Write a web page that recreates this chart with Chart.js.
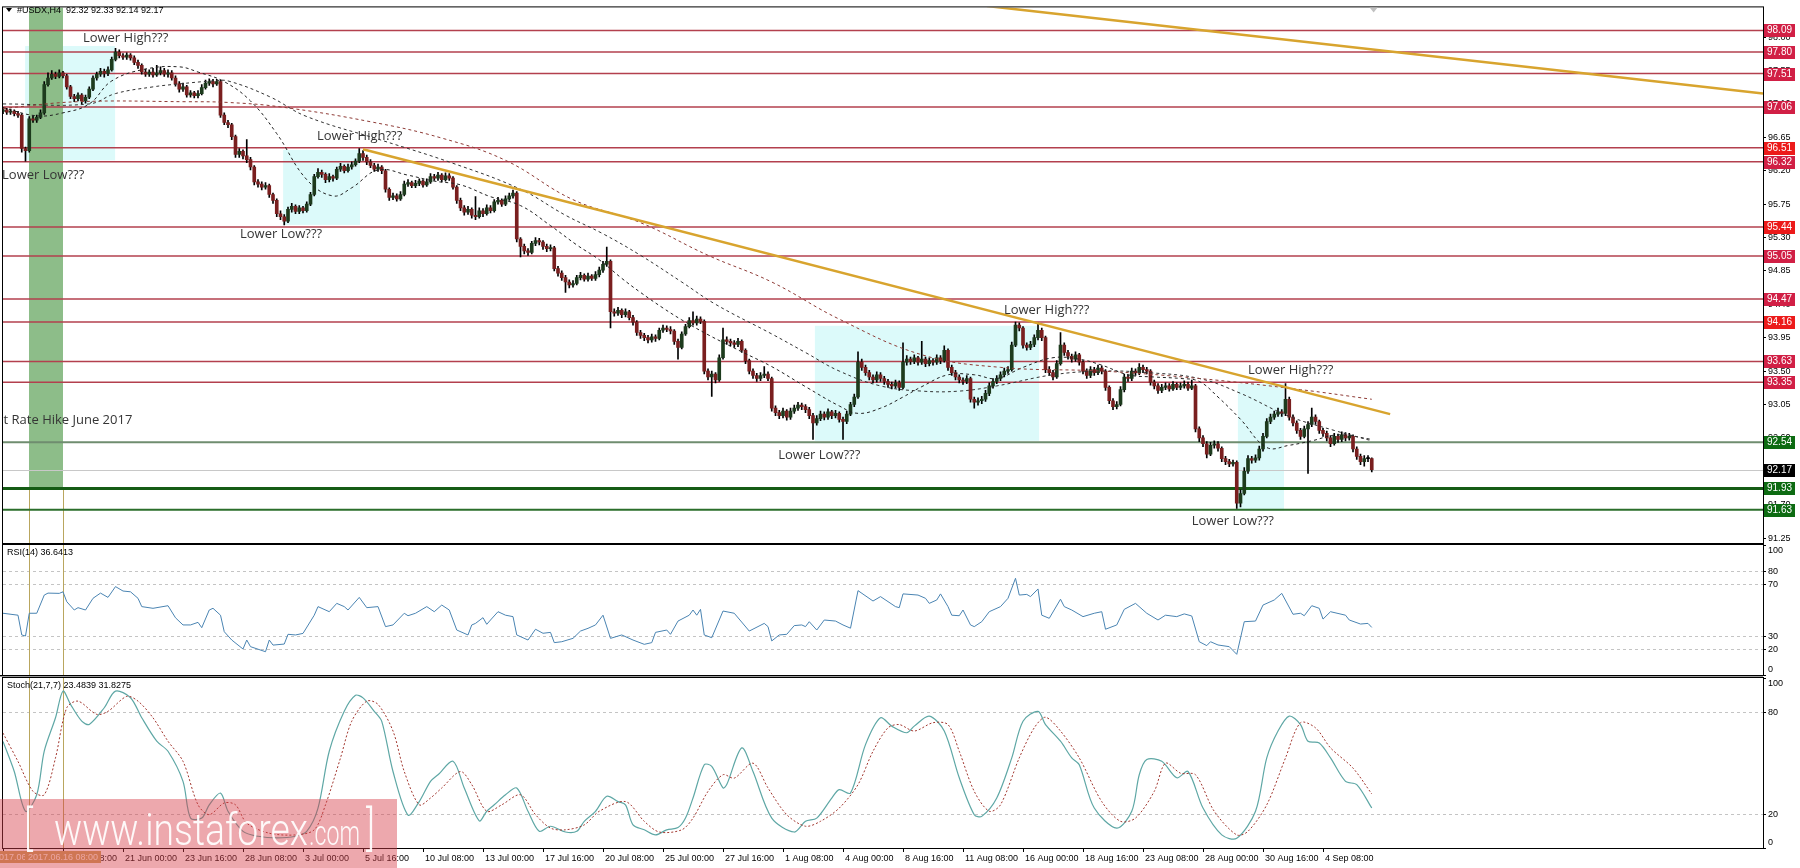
<!DOCTYPE html>
<html><head><meta charset="utf-8">
<script src="https://cdn.jsdelivr.net/npm/chart.js@4.4.1/dist/chart.umd.min.js"></script>
<style>
html,body{margin:0;padding:0;background:#fff;}
#wrap{position:relative;width:1800px;height:868px;overflow:hidden;background:#fff;}
#wrap canvas{position:absolute;left:0;top:0;}
</style></head><body>
<div id="wrap">
<canvas id="main" width="1800" height="868"></canvas>
<canvas id="rsi" width="1800" height="868"></canvas>
<canvas id="stoch" width="1800" height="868"></canvas>
</div>
<script>
// USDX H4 candles, bar 0 = 13 Jun 16:00
const opens = [
97.00,97.02,96.99,97.00,96.97,96.95,96.50,96.47,96.90,96.88, 96.92,96.98,97.36,97.45,97.50,97.47,97.52,97.48,97.33,97.20,
97.17,97.22,97.14,97.19,97.30,97.45,97.50,97.54,97.51,97.56, 97.70,97.80,97.75,97.73,97.76,97.72,97.66,97.62,97.53,97.50,
97.53,97.49,97.52,97.55,97.50,97.52,97.45,97.37,97.30,97.33, 97.22,97.25,97.21,97.24,97.32,97.38,97.40,97.37,97.40,96.95,
96.85,96.82,96.66,96.42,96.46,96.40,96.35,96.25,96.05,96.02, 95.98,96.00,95.88,95.80,95.62,95.58,95.52,95.68,95.72,95.65,
95.70,95.66,95.75,95.88,96.12,96.18,96.15,96.08,96.12,96.10, 96.22,96.26,96.20,96.25,96.28,96.33,96.43,96.38,96.32,96.27,
96.22,96.25,96.20,95.95,95.84,95.86,95.82,95.88,96.02,96.04, 96.00,96.03,96.06,96.01,96.05,96.12,96.10,96.14,96.08,96.13,
96.10,95.98,95.80,95.70,95.64,95.68,95.60,95.58,95.66,95.62, 95.70,95.66,95.78,95.80,95.75,95.82,95.86,95.90,95.28,95.18,
95.12,95.10,95.22,95.26,95.24,95.18,95.15,95.16,94.88,94.82, 94.76,94.70,94.66,94.68,94.76,94.79,94.74,94.78,94.75,94.80,
94.86,94.94,94.98,94.30,94.28,94.32,94.26,94.30,94.22,94.16, 94.02,93.98,93.95,93.92,93.96,93.94,94.05,94.08,94.06,94.04,
93.90,93.82,94.00,94.10,94.18,94.15,94.20,94.17,93.50,93.42, 93.46,93.38,93.68,93.92,93.90,93.88,93.86,93.90,93.78,93.64,
93.50,93.44,93.40,93.44,93.46,93.40,93.00,92.94,92.90,92.96, 92.88,92.96,93.00,93.04,93.02,92.98,92.90,92.80,92.86,92.92,
92.88,92.95,92.90,92.93,92.85,92.82,92.92,93.05,93.15,93.62, 93.55,93.48,93.42,93.38,93.45,93.40,93.36,93.32,93.30,93.34,
93.28,93.62,93.66,93.63,93.68,93.62,93.66,93.60,93.64,93.62, 93.68,93.64,93.78,93.55,93.48,93.42,93.38,93.36,93.40,93.12,
93.08,93.10,93.12,93.20,93.30,93.36,93.40,93.45,93.50,93.52, 93.85,94.12,94.08,93.85,93.82,93.86,93.95,94.05,93.95,93.52,
93.48,93.42,93.60,93.85,93.75,93.70,93.66,93.72,93.62,93.50, 93.44,93.52,93.48,93.54,93.50,93.28,93.10,93.02,93.05,93.25,
93.42,93.40,93.50,93.48,93.55,93.52,93.50,93.35,93.30,93.24, 93.28,93.30,93.26,93.32,93.28,93.30,93.32,93.27,93.30,92.72,
92.60,92.52,92.38,92.50,92.52,92.46,92.32,92.28,92.25,92.27, 91.72,91.85,92.15,92.32,92.30,92.33,92.45,92.62,92.82,92.88,
92.92,92.95,92.93,93.12,92.88,92.80,92.70,92.62,92.72,92.78, 92.88,92.82,92.70,92.66,92.60,92.52,92.62,92.58,92.64,92.60,
92.62,92.45,92.35,92.28,92.32,92.32];
const highs = [
97.05,97.04,97.03,97.02,97.00,96.97,96.52,96.93,96.94,96.95, 97.02,97.40,97.52,97.55,97.53,97.56,97.54,97.50,97.35,97.23,
97.25,97.24,97.22,97.33,97.48,97.53,97.58,97.57,97.60,97.73, 97.85,97.83,97.78,97.79,97.78,97.75,97.69,97.64,97.57,97.56,
97.58,97.62,97.60,97.58,97.56,97.55,97.48,97.40,97.38,97.35, 97.28,97.27,97.28,97.36,97.42,97.44,97.43,97.43,97.42,96.98,
96.88,96.84,96.68,96.50,96.48,96.62,96.38,96.27,96.08,96.05, 96.04,96.02,95.90,95.82,95.66,95.61,95.71,95.76,95.74,95.73,
95.72,95.78,95.91,96.15,96.23,96.21,96.17,96.16,96.14,96.25, 96.30,96.28,96.29,96.32,96.36,96.50,96.47,96.41,96.35,96.30,
96.29,96.27,96.22,95.97,95.90,95.89,95.92,96.06,96.08,96.06, 96.07,96.09,96.08,96.09,96.16,96.15,96.18,96.16,96.17,96.16,
96.12,96.00,95.83,95.73,95.72,95.70,95.85,95.70,95.69,95.74, 95.73,95.81,95.84,95.82,95.86,95.90,95.94,95.92,95.30,95.21,
95.15,95.25,95.30,95.29,95.26,95.21,95.20,95.18,94.91,94.85, 94.79,94.73,94.72,94.79,94.83,94.81,94.82,94.80,94.84,94.90,
94.98,95.17,95.00,94.34,94.36,94.34,94.34,94.32,94.25,94.18, 94.05,94.01,93.98,94.00,93.99,94.08,94.12,94.11,94.10,94.06,
93.93,94.03,94.13,94.22,94.30,94.24,94.23,94.19,93.53,93.50, 93.48,93.72,94.08,93.96,93.93,93.91,93.94,93.92,93.80,93.66,
93.53,93.47,93.48,93.56,93.49,93.42,93.03,92.97,93.00,92.98, 93.00,93.04,93.08,93.07,93.05,93.01,92.93,92.90,92.96,92.95,
92.99,92.97,92.97,92.95,92.88,92.96,93.08,93.19,93.76,93.66, 93.58,93.51,93.45,93.49,93.48,93.43,93.39,93.35,93.38,93.37,
93.88,93.71,93.69,93.72,93.70,93.90,93.69,93.68,93.67,93.72, 93.71,93.84,93.80,93.58,93.51,93.45,93.41,93.44,93.42,93.15,
93.14,93.16,93.24,93.34,93.40,93.44,93.49,93.54,93.56,93.89, 94.16,94.15,94.10,93.88,93.90,93.99,94.15,94.08,93.97,93.56,
93.51,93.64,94.02,93.88,93.78,93.73,93.76,93.74,93.64,93.53, 93.56,93.55,93.58,93.57,93.52,93.30,93.13,93.09,93.29,93.46,
93.45,93.54,93.53,93.60,93.58,93.55,93.52,93.38,93.33,93.32, 93.34,93.33,93.36,93.34,93.34,93.37,93.35,93.38,93.32,92.75,
92.63,92.55,92.54,92.56,92.55,92.48,92.35,92.31,92.30,92.29, 91.90,92.20,92.36,92.35,92.37,92.49,92.66,92.86,92.92,92.96,
93.00,92.98,93.33,93.15,92.91,92.83,92.73,92.76,92.82,93.00, 92.91,92.84,92.73,92.69,92.63,92.66,92.65,92.68,92.67,92.66,
92.64,92.48,92.38,92.36,92.36,92.33];
const lows = [
96.97,96.96,96.96,96.94,96.92,96.45,96.33,96.45,96.85,96.85, 96.90,96.96,97.34,97.43,97.44,97.45,97.45,97.30,97.17,97.13,
97.14,97.10,97.11,97.17,97.28,97.42,97.47,97.46,97.48,97.54, 97.68,97.72,97.70,97.70,97.69,97.63,97.58,97.50,97.47,97.47,
97.46,97.47,97.49,97.47,97.46,97.42,97.34,97.26,97.27,97.19, 97.19,97.18,97.18,97.22,97.30,97.35,97.33,97.35,96.92,96.82,
96.78,96.62,96.38,96.38,96.36,96.31,96.21,96.01,95.98,95.94, 95.95,95.84,95.76,95.58,95.54,95.47,95.50,95.64,95.62,95.62,
95.63,95.64,95.73,95.86,96.10,96.11,96.04,96.05,96.06,96.08, 96.19,96.17,96.18,96.22,96.26,96.31,96.34,96.28,96.24,96.19,
96.19,96.16,95.91,95.80,95.81,95.79,95.80,95.86,95.99,95.97, 95.97,96.00,95.98,95.99,96.03,96.07,96.07,96.05,96.06,96.07,
95.95,95.76,95.66,95.60,95.61,95.56,95.54,95.56,95.58,95.60, 95.63,95.64,95.75,95.72,95.73,95.80,95.83,95.24,95.04,95.08,
95.06,95.08,95.19,95.20,95.14,95.11,95.12,94.85,94.78,94.72, 94.56,94.62,94.63,94.66,94.73,94.71,94.71,94.72,94.72,94.77,
94.83,94.91,94.08,94.24,94.25,94.22,94.23,94.19,94.12,93.98, 93.94,93.91,93.88,93.89,93.90,93.92,94.02,94.03,94.00,93.86,
93.66,93.80,93.98,94.08,94.12,94.12,94.14,93.46,93.38,93.16, 93.34,93.36,93.66,93.86,93.84,93.82,93.83,93.75,93.60,93.46,
93.40,93.36,93.37,93.41,93.37,92.96,92.90,92.86,92.87,92.84, 92.85,92.93,92.97,92.98,92.94,92.86,92.58,92.77,92.83,92.84,
92.85,92.86,92.87,92.81,92.58,92.79,92.90,93.02,93.13,93.51, 93.44,93.38,93.34,93.35,93.36,93.32,93.28,93.26,93.27,93.24,
93.26,93.58,93.59,93.60,93.58,93.59,93.56,93.57,93.58,93.59, 93.60,93.62,93.51,93.44,93.38,93.34,93.32,93.33,93.08,93.00,
93.04,93.06,93.09,93.17,93.27,93.33,93.37,93.42,93.47,93.50, 93.83,94.04,93.81,93.78,93.79,93.83,93.92,93.91,93.48,93.44,
93.38,93.40,93.58,93.71,93.66,93.62,93.63,93.58,93.46,93.40, 93.41,93.44,93.45,93.46,93.24,93.06,92.98,92.99,93.03,93.22,
93.36,93.37,93.44,93.45,93.48,93.46,93.31,93.26,93.20,93.21, 93.25,93.23,93.24,93.25,93.25,93.27,93.24,93.25,92.68,92.55,
92.48,92.33,92.36,92.46,92.42,92.28,92.24,92.21,92.22,91.65, 91.67,91.83,92.12,92.26,92.27,92.30,92.42,92.60,92.79,92.85,
92.89,92.89,92.90,92.84,92.76,92.66,92.58,92.60,92.12,92.75, 92.78,92.66,92.62,92.56,92.48,92.50,92.54,92.55,92.56,92.57,
92.41,92.31,92.24,92.22,92.28,92.14];
const closes = [
97.02,96.99,97.00,96.97,96.95,96.50,96.47,96.90,96.88,96.92, 96.98,97.36,97.45,97.50,97.47,97.52,97.48,97.33,97.20,97.17,
97.22,97.14,97.19,97.30,97.45,97.50,97.54,97.51,97.56,97.70, 97.80,97.75,97.73,97.76,97.72,97.66,97.62,97.53,97.50,97.53,
97.49,97.52,97.55,97.50,97.52,97.45,97.37,97.30,97.33,97.22, 97.25,97.21,97.24,97.32,97.38,97.40,97.37,97.40,96.95,96.85,
96.82,96.66,96.42,96.46,96.40,96.35,96.25,96.05,96.02,95.98, 96.00,95.88,95.80,95.62,95.58,95.52,95.68,95.72,95.65,95.70,
95.66,95.75,95.88,96.12,96.18,96.15,96.08,96.12,96.10,96.22, 96.26,96.20,96.25,96.28,96.33,96.43,96.38,96.32,96.27,96.22,
96.25,96.20,95.95,95.84,95.86,95.82,95.88,96.02,96.04,96.00, 96.03,96.06,96.01,96.05,96.12,96.10,96.14,96.08,96.13,96.10,
95.98,95.80,95.70,95.64,95.68,95.60,95.58,95.66,95.62,95.70, 95.66,95.78,95.80,95.75,95.82,95.86,95.90,95.28,95.18,95.12,
95.10,95.22,95.26,95.24,95.18,95.15,95.16,94.88,94.82,94.76, 94.70,94.66,94.68,94.76,94.79,94.74,94.78,94.75,94.80,94.86,
94.94,94.98,94.30,94.28,94.32,94.26,94.30,94.22,94.16,94.02, 93.98,93.95,93.92,93.96,93.94,94.05,94.08,94.06,94.04,93.90,
93.82,94.00,94.10,94.18,94.15,94.20,94.17,93.50,93.42,93.46, 93.38,93.68,93.92,93.90,93.88,93.86,93.90,93.78,93.64,93.50,
93.44,93.40,93.44,93.46,93.40,93.00,92.94,92.90,92.96,92.88, 92.96,93.00,93.04,93.02,92.98,92.90,92.80,92.86,92.92,92.88,
92.95,92.90,92.93,92.85,92.82,92.92,93.05,93.15,93.62,93.55, 93.48,93.42,93.38,93.45,93.40,93.36,93.32,93.30,93.34,93.28,
93.62,93.66,93.63,93.68,93.62,93.66,93.60,93.64,93.62,93.68, 93.64,93.78,93.55,93.48,93.42,93.38,93.36,93.40,93.12,93.08,
93.10,93.12,93.20,93.30,93.36,93.40,93.45,93.50,93.52,93.85, 94.12,94.08,93.85,93.82,93.86,93.95,94.05,93.95,93.52,93.48,
93.42,93.60,93.85,93.75,93.70,93.66,93.72,93.62,93.50,93.44, 93.52,93.48,93.54,93.50,93.28,93.10,93.02,93.05,93.25,93.42,
93.40,93.50,93.48,93.55,93.52,93.50,93.35,93.30,93.24,93.28, 93.30,93.26,93.32,93.28,93.30,93.32,93.27,93.30,92.72,92.60,
92.52,92.38,92.50,92.52,92.46,92.32,92.28,92.25,92.27,91.72, 91.85,92.15,92.32,92.30,92.33,92.45,92.62,92.82,92.88,92.92,
92.95,92.93,93.12,92.88,92.80,92.70,92.62,92.72,92.78,92.88, 92.82,92.70,92.66,92.60,92.52,92.62,92.58,92.64,92.60,92.62,
92.45,92.35,92.28,92.32,92.32,92.17];

// moving averages [bar, price]
const maFast = [[0,97.05],[9,96.94],[16,96.98],[23,97.10],[29,97.41],[38,97.57],[47,97.60],[52,97.53],[59,97.40],[66,97.14],[73,96.70],[81,96.08],[88,95.86],[93,95.97],[100,96.21],[108,96.14],[115,96.06],[122,96.01],[130,95.85],[138,95.73],[146,95.46],[153,95.20],[159,95.00],[165,94.75],[170,94.56],[176,94.35],[181,94.19],[188,93.99],[197,93.76],[205,93.56],[214,93.29],[223,93.03],[228,92.93],[234,93.00],[240,93.15],[245,93.29],[252,93.45],[259,93.45],[265,93.40],[272,93.55],[280,93.68],[287,93.66],[293,93.58],[300,93.45],[307,93.42],[314,93.40],[319,93.36],[324,93.15],[330,92.85],[337,92.47],[343,92.50],[349,92.56],[356,92.64],[365,92.58]];
const maMid = [[0,97.10],[23,97.10],[30,97.24],[40,97.33],[47,97.37],[56,97.41],[60,97.41],[71,97.20],[81,96.93],[101,96.61],[120,96.30],[138,95.95],[150,95.60],[160,95.35],[170,95.06],[181,94.70],[190,94.40],[205,94.00],[214,93.75],[223,93.50],[234,93.30],[245,93.23],[255,93.23],[265,93.30],[280,93.45],[293,93.50],[305,93.48],[319,93.40],[330,93.20],[343,92.89],[355,92.70],[365,92.56]];
const maSlow = [[0,97.04],[20,97.13],[49,97.13],[60,97.12],[74,97.06],[98,96.86],[117,96.64],[134,96.34],[152,95.81],[170,95.50],[188,95.06],[205,94.70],[223,94.20],[245,93.72],[266,93.55],[293,93.50],[319,93.40],[346,93.25],[365,93.12]];

// drawn objects
const trendA = [[96,96.49],[369.9,92.92]];
const trendB = [[262.4,98.42],[469.33,97.24]];
const levelPrices = [98.09,97.80,97.51,97.06,96.51,96.32,95.44,95.05,94.47,94.16,93.63,93.35,92.54,92.17,91.93,91.63];
const priceTicks = [98.00,97.55,97.10,96.65,96.20,95.75,95.30,94.85,94.40,93.95,93.50,93.05,92.60,92.15,91.70,91.25];
const zoneFrom = [5.9,74.7,216.5,329.3];
const zoneTo = [29.9,95.2,276.3,341.6];
const zoneHigh = [97.88,96.48,94.11,93.33];
const zoneLow = [96.34,95.47,92.56,91.62];
const markFrom = 6.93, markTo = 16, markLow = 91.93;
const annoText = ['Lower High???','Lower Low???','Lower High???','Lower Low???','Lower High???','Lower Low???','Lower High???','Lower Low???','t Rate Hike June 2017'];
const annoBar = [21.3,-0.25,83.7,63.2,266.9,206.7,332,317,0.15];
const annoPrice = [97.99,96.14,96.66,95.34,94.32,92.36,93.51,91.48,92.84];

// indicators [bar, value]
const rsiPts = [[0,47.5],[4,46],[5,30.8],[6,30],[7,47.5],[9,47.5],[11,61.5],[12,63],[15,62.8],[16,64],[17,56.4],[19,50],[20,51.8],[22,50],[24,59],[26,63],[28,59.7],[30,68],[32,64.6],[34,64],[36,59],[37,52.6],[40,51.3],[44,53.3],[46,44],[48,38.5],[50,38.5],[52,40.5],[53,36.4],[55,50],[56,51.3],[58,46],[59,33.3],[61,26.9],[64,20],[65,26.9],[66,21.8],[70,17.9],[71,26.9],[72,23],[75,23.8],[76,31.3],[78,30.8],[80,32],[83,46],[84,52.6],[87,48.7],[89,55.1],[91,52.6],[92,50],[95,59.7],[97,51.8],[100,52.6],[102,37.2],[104,38.5],[107,47.5],[108,45.6],[110,47.5],[113,52.6],[115,48.7],[117,53.8],[119,50],[121,34.6],[124,30.8],[125,38.5],[126,39.7],[128,44.1],[129,39],[130,42.3],[132,48.7],[134,46],[136,44.9],[137,30.8],[140,26.9],[142,35.2],[144,32.1],[146,32.8],[147,24.9],[149,25.6],[152,28.2],[154,33.8],[156,35.9],[158,38.5],[160,46],[162,28.2],[165,30.8],[168,26.9],[171,23.6],[173,24.9],[174,32.8],[177,34.6],[178,31.3],[180,41.5],[183,46],[184,50],[185,46],[186,50.5],[187,30.8],[189,28.7],[192,49.2],[195,47.5],[199,33.8],[203,39.7],[204,37.2],[205,26.2],[207,30.8],[209,31.3],[211,38],[213,38.5],[214,37.2],[215,41],[217,34.6],[219,42.3],[222,41.5],[224,38.5],[226,36],[228,64.9],[232,56.9],[234,60.3],[238,52.6],[239,51.8],[240,62.4],[244,61.5],[246,59],[247,55.1],[249,57.7],[250,62.4],[252,52.6],[253,46],[255,45.6],[256,50],[258,38.5],[259,37.2],[261,41],[263,48.7],[266,52.6],[268,59],[270,74.4],[271,61.5],[273,62],[274,60.3],[276,66.2],[277,46],[279,43.6],[282,58.3],[283,52.6],[285,50],[288,44.9],[291,47.5],[293,48.7],[294,35.2],[297,38.5],[299,50.5],[302,55.1],[305,47.5],[308,42.3],[310,46],[313,44.9],[315,47],[317,45.4],[319,25.6],[321,22.6],[322,25.6],[324,23.1],[327,21.8],[329,15.9],[331,41],[334,41.5],[336,53.8],[339,57.7],[341,62.8],[344,46.7],[346,47.5],[347,45.6],[349,53.3],[351,51.3],[352,43],[354,48.7],[358,46],[359,42.3],[362,39.2],[364,39.7],[365,36.6]];
const stochK = [[0,62.7],[3,45],[6,21.6],[9,31.3],[11,57],[14,76.6],[16,92.3],[18,84.5],[21,74.6],[23,72.7],[27,82.5],[30,92.3],[34,88.4],[37,76.6],[41,62.8],[44,56.9],[48,39.2],[50,17.6],[53,17.6],[55,25.4],[58,32.3],[60,21.6],[64,9.8],[68,6.9],[73,5.9],[78,6.9],[81,9.8],[84,23.5],[87,56.9],[91,80.4],[94,89.8],[96,88.3],[99,80.4],[101,74.5],[104,45],[108,19.4],[111,27.3],[114,39.2],[116,43.1],[120,51],[123,35.3],[127,16],[129,21.6],[131,25.4],[134,31.3],[137,35.3],[140,21.6],[143,9.8],[146,12.8],[150,9.4],[153,9.8],[155,15.7],[158,21.6],[161,30.4],[164,27.3],[166,25.4],[168,13.6],[171,10.7],[174,7.7],[177,10.7],[180,12],[182,17.6],[184,29.4],[187,49],[189,48],[192,35.3],[193,37.3],[197,58.9],[200,45],[205,17.6],[211,9.4],[214,15.7],[217,17.6],[221,29.4],[223,34.3],[226,32.3],[230,60.8],[234,76.6],[237,71.7],[241,67.8],[243,71.7],[247,77.6],[251,68.8],[255,41.3],[259,19.6],[261,18.6],[265,29.4],[269,53],[272,74.6],[276,80.4],[278,72.6],[282,62.8],[285,53],[287,49],[291,23.5],[297,11.7],[301,21.6],[303,43.1],[305,52],[309,51],[313,41.3],[316,45],[320,23.5],[325,7.7],[329,5.7],[334,21.6],[337,53],[340,68.8],[343,77.6],[346,72.6],[348,62.8],[351,61.8],[354,53],[358,39.2],[361,37.3],[365,23.5]];
const stochD = [[0,67.6],[4,50.9],[8,33.3],[11,31.3],[14,53],[17,82.5],[20,86.4],[25,78.6],[28,80.4],[33,89.2],[36,86.4],[40,76.6],[44,62.8],[48,51],[52,25.4],[55,19.6],[59,26.5],[62,25.4],[65,14.6],[71,8.7],[78,7.7],[83,10.7],[86,25.4],[90,53],[93,74.6],[97,86.4],[100,84.5],[104,68.8],[107,45],[111,25.4],[114,29.4],[117,35.3],[122,45],[125,37.3],[129,21.6],[133,25.4],[138,31.3],[142,19.6],[146,11.7],[150,10.7],[155,13.6],[159,21.6],[166,27.3],[171,15.7],[175,9.4],[181,10.7],[184,17.6],[188,33.3],[192,43.1],[195,41.1],[200,49.9],[204,35.3],[209,19.6],[214,12.8],[218,15.7],[223,23.5],[228,37.3],[232,56.9],[236,70.7],[239,72.6],[243,68.8],[248,73.7],[252,72.6],[255,56.9],[259,33.3],[263,21.6],[266,25.4],[271,53],[275,70.7],[278,76.9],[282,68.8],[287,53],[293,27.3],[298,15.7],[302,17.6],[307,33.3],[310,49.9],[314,44],[318,43.1],[323,21.6],[329,7.7],[332,9.8],[337,25.4],[342,53],[346,73.7],[350,70.7],[354,58.9],[360,47],[365,31.8]];
const rsiLevels = [80,70,30,20];
const rsiAxis = [100,80,70,30,20,0];
const stochLevels = [80,20];
const stochAxis = [100,80,20,0];

// time axis: one label every 16 bars
const timeTickIdx = [0,16,32,48,64,80,96,112,128,144,160,176,192,208,224,240,256,272,288,304,320,336,352];
const timeLabels = ['13 Jun 16:00','16 Jun 08:00','21 Jun 00:00','23 Jun 16:00','28 Jun 08:00','3 Jul 00:00','5 Jul 16:00','10 Jul 08:00','13 Jul 00:00','17 Jul 16:00','20 Jul 08:00','25 Jul 00:00','27 Jul 16:00','1 Aug 08:00','4 Aug 00:00','8 Aug 16:00','11 Aug 08:00','16 Aug 00:00','18 Aug 16:00','23 Aug 08:00','28 Aug 00:00','30 Aug 16:00','4 Sep 08:00'];
const markDates = ['2017.06.14 20:00','2017.06.16 08:00'];

// ---- styles ----
const FONT = '"Liberation Sans", Arial, sans-serif';
const X_MIN = 0, X_MAX = 469.33;
const levelKind = ['r','r','r','r','R','r','R','r','r','R','r','r','g1','cur','g2','g3'];
const LEVEL_STYLE = {
  r:   { line:'#b3404e', width:1.5, box:'#d11f45' },
  R:   { line:'#b3404e', width:1.5, box:'#ec1a1a' },
  g1:  { line:'#6f8d6f', width:2,   box:'#0d6b12' },
  cur: { line:'#c8c8c8', width:1,   box:'#000000' },
  g2:  { line:'#155c15', width:3,   box:'#0d6b12' },
  g3:  { line:'#2b6e2b', width:2,   box:'#0d6b12' }
};
const MARK_LINE = '#b9a65e';

const pts = arr => arr.map(([x, y]) => ({ x, y }));

function clipArea(ctx, a) {
  ctx.beginPath(); ctx.rect(a.left, a.top, a.right - a.left, a.bottom - a.top); ctx.clip();
}
function frame(ctx, a) {
  ctx.strokeStyle = '#000'; ctx.lineWidth = 1;
  ctx.strokeRect(a.left - 0.5, a.top - 0.5, a.right - a.left + 1, a.bottom - a.top + 1);
}
function markVerticals(ctx, chart, yTop, yBottom) {
  const x = chart.scales.x;
  ctx.strokeStyle = MARK_LINE; ctx.lineWidth = 1;
  [markFrom, markTo].forEach(v => {
    const px = Math.round(x.getPixelForValue(v)) + 0.5;
    ctx.beginPath(); ctx.moveTo(px, yTop); ctx.lineTo(px, yBottom); ctx.stroke();
  });
}

// ---- main price panel ----
const mainDecor = {
  id: 'mainDecor',
  beforeDatasetsDraw(chart) {
    const { ctx, chartArea: a, scales: { x, y } } = chart;
    ctx.save();
    clipArea(ctx, a);
    ctx.fillStyle = '#dcfafa';
    zoneFrom.forEach((f, k) => {
      const x0 = x.getPixelForValue(f), x1 = x.getPixelForValue(zoneTo[k]);
      const y0 = y.getPixelForValue(zoneHigh[k]), y1 = y.getPixelForValue(zoneLow[k]);
      ctx.fillRect(x0, y0, x1 - x0, y1 - y0);
    });
    const gx0 = x.getPixelForValue(markFrom), gx1 = x.getPixelForValue(markTo);
    const gy = y.getPixelForValue(markLow);
    ctx.fillStyle = '#8dbd89';
    ctx.fillRect(gx0, a.top, gx1 - gx0, gy - a.top);
    markVerticals(ctx, chart, gy, a.bottom);
    levelPrices.forEach((p, k) => {
      const st = LEVEL_STYLE[levelKind[k]];
      let py = y.getPixelForValue(p);
      if (st.width % 2 === 1) py = Math.round(py) + 0.5;
      ctx.strokeStyle = st.line; ctx.lineWidth = st.width;
      ctx.beginPath(); ctx.moveTo(a.left, py); ctx.lineTo(a.right, py); ctx.stroke();
    });
    ctx.restore();
  },
  afterDatasetsDraw(chart) {
    const { ctx, scales: { x, y } } = chart;
    ctx.save();
    ctx.font = '13px "Open Sans", ' + FONT;
    ctx.fillStyle = '#353535';
    ctx.textAlign = 'left'; ctx.textBaseline = 'middle';
    annoText.forEach((t, k) => ctx.fillText(t, x.getPixelForValue(annoBar[k]), y.getPixelForValue(annoPrice[k])));
    ctx.restore();
  },
  afterDraw(chart) {
    const { ctx, chartArea: a, scales: { x, y } } = chart;
    ctx.save();
    frame(ctx, a);
    // price tags on the axis
    ctx.font = '10px ' + FONT; ctx.textAlign = 'left'; ctx.textBaseline = 'middle';
    levelPrices.forEach((p, k) => {
      const st = LEVEL_STYLE[levelKind[k]];
      const py = Math.round(y.getPixelForValue(p));
      ctx.fillStyle = st.box;
      ctx.fillRect(a.right + 1, py - 6, 31, 13);
      ctx.fillStyle = '#fff';
      ctx.fillText(p.toFixed(2), a.right + 4, py + 0.5);
    });
    // header
    ctx.font = '9px ' + FONT;
    ctx.fillStyle = '#000';
    ctx.beginPath(); ctx.moveTo(6, 8); ctx.lineTo(12, 8); ctx.lineTo(9, 12); ctx.closePath(); ctx.fill();
    ctx.fillText('#USDX,H4  92.32 92.33 92.14 92.17', 17, 11);
    // chart shift marker
    const sx = x.getPixelForValue(365.5);
    ctx.fillStyle = '#c0c0c0';
    ctx.beginPath(); ctx.moveTo(sx - 4, a.top); ctx.lineTo(sx + 4, a.top); ctx.lineTo(sx, a.top + 5); ctx.closePath(); ctx.fill();
    ctx.restore();
  }
};

const bodyColors = closes.map((c, i) => c > opens[i] ? '#1d3b1d' : (c < opens[i] ? '#7a1f1f' : '#000'));

new Chart(document.getElementById('main'), {
  type: 'line',
  data: {
    datasets: [
      { type: 'bar', data: lows.map((l, i) => ({ x: i, y: [l, highs[i]] })), backgroundColor: '#000', barThickness: 1, grouped: false, order: 5 },
      { type: 'bar', data: opens.map((o, i) => ({ x: i, y: [o, closes[i]] })), backgroundColor: bodyColors, barThickness: 3, minBarLength: 1, grouped: false, order: 4 },
      { type: 'line', data: pts(maSlow), borderColor: '#8e3b36', borderWidth: 1, borderDash: [3, 3], pointRadius: 0, tension: 0.4, order: 3 },
      { type: 'line', data: pts(maMid), borderColor: '#333', borderWidth: 1, borderDash: [3, 3], pointRadius: 0, tension: 0.4, order: 3 },
      { type: 'line', data: pts(maFast), borderColor: '#222', borderWidth: 1, borderDash: [3, 3], pointRadius: 0, tension: 0.4, order: 3 },
      { type: 'line', data: pts(trendA), borderColor: '#d8a42e', borderWidth: 2.5, pointRadius: 0, order: 1 },
      { type: 'line', data: pts(trendB), borderColor: '#d8a42e', borderWidth: 2.5, pointRadius: 0, order: 1 }
    ]
  },
  options: {
    responsive: false, animation: false, events: [],
    layout: { padding: { left: 3, top: 3, right: 0, bottom: 868 - 543 } },
    plugins: { legend: { display: false }, tooltip: { enabled: false } },
    scales: {
      x: { type: 'linear', min: X_MIN, max: X_MAX, offset: false, display: false },
      y: {
        position: 'right', min: 91.183, max: 98.401,
        afterFit: s => { s.width = 37; },
        afterBuildTicks: s => { s.ticks = priceTicks.map(v => ({ value: v })); },
        ticks: { autoSkip: false, color: '#000', padding: 2, font: { size: 9, family: FONT }, callback: v => Number(v).toFixed(2) },
        grid: { drawOnChartArea: false, drawTicks: true, tickLength: 3, color: '#000' },
        border: { display: true, color: '#000' }
      }
    }
  },
  plugins: [mainDecor]
});

// ---- indicator panels ----
function indicatorDecor(id, levels, axisVals, title) {
  return {
    id,
    beforeDatasetsDraw(chart) {
      const { ctx, chartArea: a, scales: { y } } = chart;
      ctx.save();
      clipArea(ctx, a);
      ctx.strokeStyle = '#c4c4c4'; ctx.lineWidth = 1; ctx.setLineDash([3, 3]);
      levels.forEach(v => {
        const py = Math.round(y.getPixelForValue(v)) + 0.5;
        ctx.beginPath(); ctx.moveTo(a.left, py); ctx.lineTo(a.right, py); ctx.stroke();
      });
      ctx.setLineDash([]);
      markVerticals(ctx, chart, a.top, a.bottom);
      ctx.restore();
    },
    afterDraw(chart) {
      const { ctx, chartArea: a, scales: { y } } = chart;
      ctx.save();
      frame(ctx, a);
      ctx.font = '9px ' + FONT; ctx.fillStyle = '#000'; ctx.textAlign = 'left';
      axisVals.forEach(v => {
        const py = Math.round(y.getPixelForValue(v)) + 0.5;
        ctx.beginPath(); ctx.moveTo(a.right, py); ctx.lineTo(a.right + 3, py); ctx.stroke();
        ctx.textBaseline = v === 100 ? 'top' : (v === 0 ? 'bottom' : 'middle');
        ctx.fillText(String(v), a.right + 5, v === 100 ? py + 1 : (v === 0 ? py - 1 : py));
      });
      ctx.textBaseline = 'middle';
      ctx.fillText(title, 7, a.top + 8);
      ctx.restore();
    }
  };
}

function panelOptions(top, bottom, showX) {
  return {
    responsive: false, animation: false, events: [],
    layout: { padding: { left: 3, top, right: 0, bottom } },
    plugins: { legend: { display: false }, tooltip: { enabled: false } },
    scales: {
      x: showX ? {
        type: 'linear', min: X_MIN, max: X_MAX, offset: false, position: 'bottom',
        afterBuildTicks: s => { s.ticks = timeTickIdx.map(v => ({ value: v })); },
        afterFit: s => { s.height = 20; },
        ticks: { autoSkip: false, maxRotation: 0, align: 'start', labelOffset: 2, padding: 1, color: '#000', font: { size: 9, family: FONT }, callback: (v, i) => timeLabels[i] },
        grid: { drawOnChartArea: false, drawTicks: true, tickLength: 4, color: '#000' },
        border: { display: true, color: '#000' }
      } : { type: 'linear', min: X_MIN, max: X_MAX, offset: false, display: false },
      y: {
        position: 'right', min: 0, max: 100,
        afterFit: s => { s.width = 37; },
        ticks: { display: false },
        grid: { display: false },
        border: { display: true, color: '#000' }
      }
    }
  };
}

new Chart(document.getElementById('rsi'), {
  type: 'line',
  data: { datasets: [
    { data: pts(rsiPts), borderColor: '#4a84b2', borderWidth: 1, pointRadius: 0, tension: 0 }
  ] },
  options: panelOptions(545, 868 - 675, false),
  plugins: [indicatorDecor('rsiDecor', rsiLevels, rsiAxis, 'RSI(14) 36.6413')]
});

const stochExtra = {
  id: 'stochExtra',
  afterDraw(chart) {
    const { ctx, scales: { x } } = chart;
    ctx.save();
    // panel separators
    ctx.fillStyle = '#9a9a9a';
    ctx.fillRect(0, 676, 1763, 1);
    ctx.fillStyle = '#000';
    ctx.fillRect(0, 675, 1763, 1);
    // vertical line date tags
    ctx.font = '9px ' + FONT; ctx.textAlign = 'center'; ctx.textBaseline = 'middle';
    [markFrom, markTo].forEach((v, k) => {
      const px = x.getPixelForValue(v);
      ctx.fillStyle = '#c9a55e';
      ctx.fillRect(px - 38, 851, 76, 12);
      ctx.fillStyle = '#fbf6e6';
      ctx.fillText(markDates[k], px, 857.5);
    });
    // watermark
    ctx.fillStyle = 'rgba(214,62,74,0.45)';
    ctx.fillRect(0, 799, 397, 69);
    ctx.fillStyle = 'rgba(255,255,255,0.93)';
    ctx.textAlign = 'left'; ctx.textBaseline = 'alphabetic';
    const fit = (txt, left, width, size) => {
      ctx.font = '300 ' + size + 'px Roboto, Lato, ' + FONT;
      const w = ctx.measureText(txt).width;
      ctx.save(); ctx.translate(left, 845); ctx.scale(width / w, 1); ctx.fillText(txt, 0, 0); ctx.restore();
    };
    fit('[', 24, 9, 48);
    fit('www.instaforex', 54, 254, 45);
    fit('.com', 309, 51, 35);
    fit(']', 366, 9, 48);
    ctx.restore();
  }
};

new Chart(document.getElementById('stoch'), {
  type: 'line',
  data: { datasets: [
    { data: pts(stochD), borderColor: '#a2372f', borderWidth: 1, borderDash: [2, 2], pointRadius: 0, tension: 0.3 },
    { data: pts(stochK), borderColor: '#5ea7a5', borderWidth: 1.2, pointRadius: 0, tension: 0.3 }
  ] },
  options: panelOptions(678, 0, true),
  plugins: [indicatorDecor('stochDecor', stochLevels, stochAxis, 'Stoch(21,7,7) 23.4839 31.8275'), stochExtra]
});
</script>
</body></html>
